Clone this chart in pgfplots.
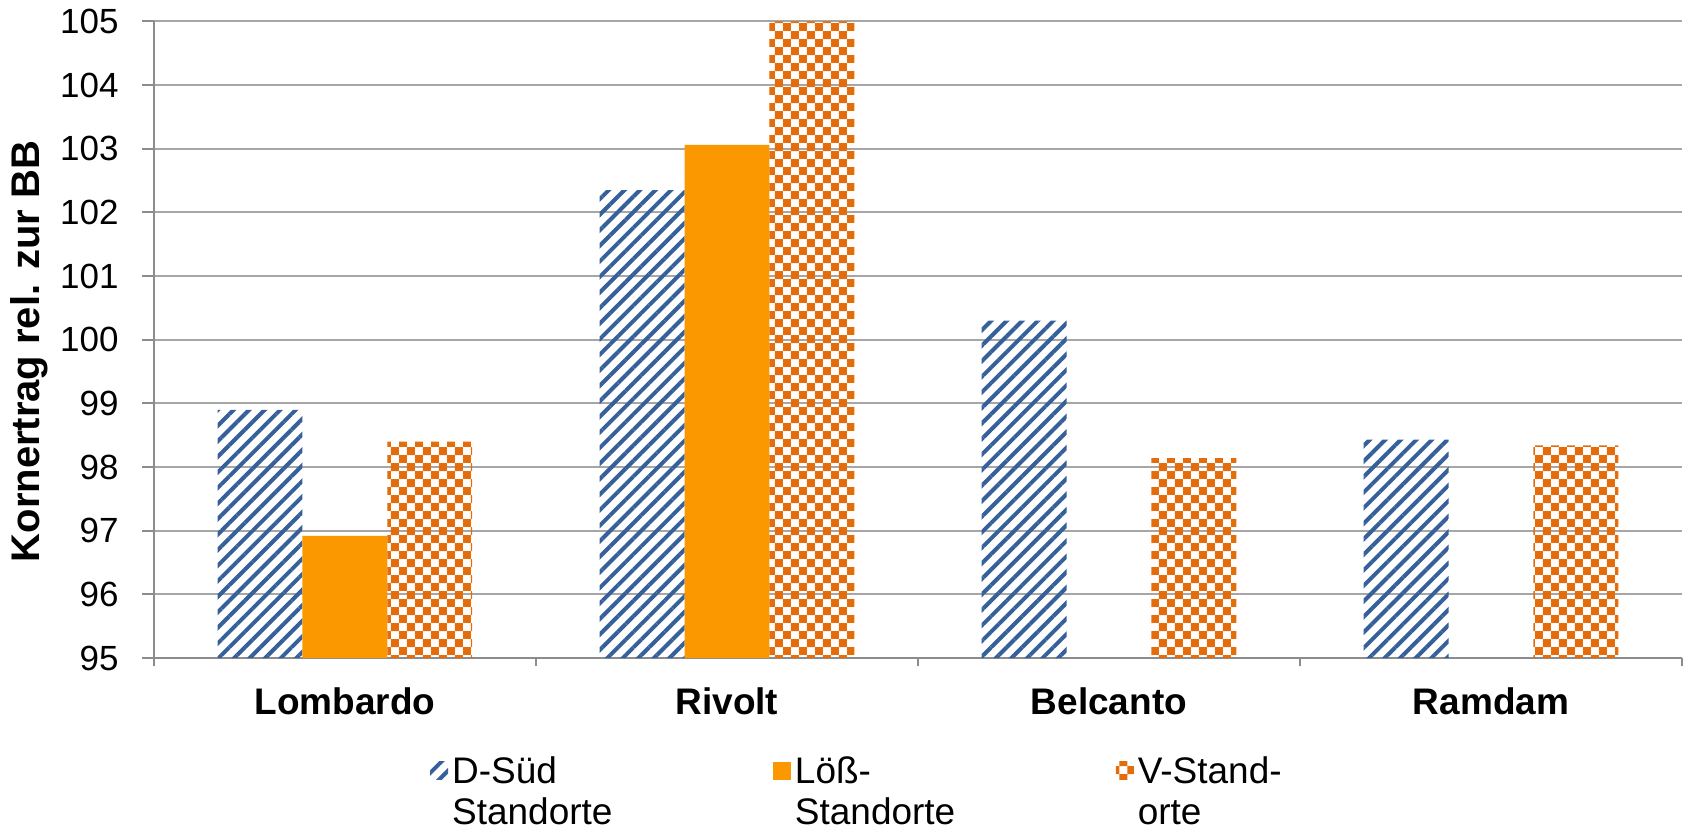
\documentclass[border=0pt]{standalone}
\usepackage{fontspec}
\setmainfont{Liberation Sans}
\usepackage{pgfplots}
\pgfplotsset{compat=1.18}
\usetikzlibrary{patterns,patterns.meta}
\definecolor{dsud}{HTML}{35609A}
\definecolor{loess}{HTML}{FB9800}
\definecolor{vst}{HTML}{E46C0A}
\definecolor{gridc}{HTML}{A6A6A6}
\definecolor{axc}{HTML}{8C8C8C}
\pgfdeclarepatternformonly{bigchecker}{\pgfqpoint{0pt}{0pt}}{\pgfqpoint{8pt}{8pt}}{\pgfqpoint{8pt}{8pt}}{%
  \pgfpathrectangle{\pgfqpoint{0pt}{0pt}}{\pgfqpoint{4pt}{4pt}}%
  \pgfpathrectangle{\pgfqpoint{4pt}{4pt}}{\pgfqpoint{4pt}{4pt}}%
  \pgfusepath{fill}}
\pgfplotstableread{
x dsud loess vst
0.5 98.90 96.92 98.40
1.5 102.35 103.06 105.00
2.5 100.30 nan 98.14
3.5 98.43 nan 98.34
}\datatab
\begin{document}
\begin{tikzpicture}
\begin{axis}[
  scale only axis,
  width=764.5pt, height=318.5pt,
  xmin=0, xmax=4, ymin=95, ymax=105,
  ytick={95,96,...,105},
  xtick={0.5,1.5,2.5,3.5},
  xticklabels={Lombardo,Rivolt,Belcanto,Ramdam},
  minor xtick={0,1,2,3,4},
  axis lines*=left,
  axis line style={axc, line width=1pt},
  ymajorgrids,
  grid style={gridc, line width=1pt},
  major x tick style={draw=none},
  minor x tick style={axc, line width=1pt},
  y tick style={axc, line width=1pt},
  tick align=outside,
  major tick length=5.8pt,
  minor tick length=4pt,
  /pgf/number format/assume math mode=true,
  yticklabel style={font=\fontsize{17.5}{20}\selectfont, anchor=east, inner sep=0pt, xshift=-11.7pt},
  xticklabel style={font=\bfseries\fontsize{18.5}{22}\selectfont, anchor=center, yshift=-16pt},
  ylabel={Kornertrag rel. zur BB},
  ylabel style={font=\bfseries\fontsize{20}{22}\selectfont, at={(axis description cs:-0.0818,0.4815)}, anchor=center},
  ybar, bar width=0.2222,
  legend columns=3,
  legend style={draw=none, fill=none, at={(axis description cs:0.1766,-0.1423)}, anchor=north west,
    font=\fontsize{18.5}{20.5}\selectfont,
    /tikz/every even column/.append style={column sep=9pt},
    cells={anchor=base west, align=left, text width=149.5pt, inner sep=0pt, xshift=2.2pt}},
  legend image code/.code={\fill[#1] (0pt,2pt) rectangle (9pt,11pt);},
]
\addplot[draw=none, pattern={Lines[angle=45,distance=5.5pt,line width=2pt]}, pattern color=dsud, bar shift=-0.2222] table[x=x,y=dsud] {\datatab};
\addplot[draw=none, fill=loess, bar shift=0] table[x=x,y=loess] {\datatab};
\addplot[draw=none, pattern=bigchecker, pattern color=vst, bar shift=0.2222] table[x=x,y=vst] {\datatab};
\legend{D-Süd\\Standorte, Löß-\\Standorte, V-Stand-\\orte}
\end{axis}
\pgfresetboundingbox
\path (-77pt,-86pt) rectangle (766.5pt,329.25pt);
\end{tikzpicture}
\end{document}
